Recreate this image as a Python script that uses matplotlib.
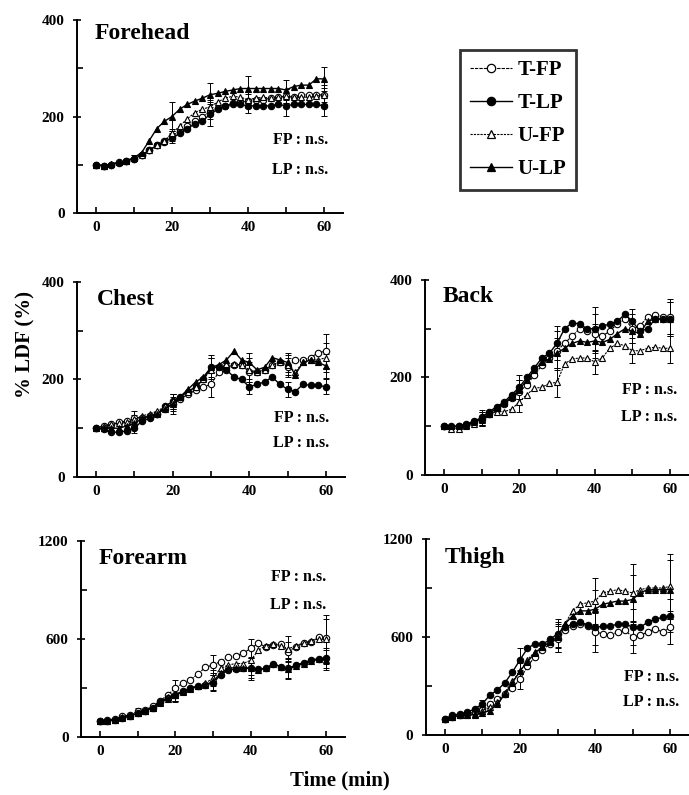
import numpy as np
import matplotlib
matplotlib.use("Agg")
import matplotlib.pyplot as plt
from matplotlib.lines import Line2D

plt.rcParams['font.family'] = ['Liberation Serif', 'DejaVu Serif']
plt.rcParams['font.weight'] = 'bold'

time = np.arange(0, 61, 2)
err_time = np.arange(0, 61, 10)
series = ['T-FP', 'T-LP', 'U-FP', 'U-LP']

# Forehead
forehead = {
    'T-FP': [100, 98, 100, 105, 108, 112, 120, 130, 140, 150, 160, 170, 180, 190, 200, 210,
             218, 222, 228, 230, 232, 235, 235, 238, 240, 242, 240, 245, 245, 245, 245],
    'T-LP': [100, 98, 100, 104, 108, 112, 120, 130, 140, 148, 155, 165, 175, 185, 190, 205,
             215, 222, 225, 225, 222, 222, 222, 222, 225, 222, 225, 225, 225, 225, 222],
    'U-FP': [100, 98, 102, 105, 108, 115, 120, 130, 140, 150, 165, 180, 195, 208, 215, 220,
             230, 238, 242, 240, 235, 238, 240, 238, 240, 242, 240, 240, 240, 242, 245],
    'U-LP': [100, 98, 102, 105, 108, 115, 125, 150, 175, 190, 200, 215, 225, 232, 238, 245,
             248, 252, 255, 258, 258, 258, 258, 258, 258, 255, 262, 265, 265, 278, 278],
}
forehead_err = {
    'T-FP': [0, 5, 10, 15, 15, 15, 20],
    'T-LP': [0, 5, 10, 25, 15, 20, 20],
    'U-FP': [0, 5, 10, 15, 15, 15, 15],
    'U-LP': [0, 5, 30, 25, 25, 20, 25],
}

# Chest
chest = {
    'T-FP': [100, 105, 108, 112, 115, 120, 122, 125, 130, 140, 150, 160, 170, 178, 185, 190,
             215, 225, 230, 230, 215, 215, 220, 230, 235, 225, 240, 240, 245, 255, 258],
    'T-LP': [100, 98, 92, 92, 95, 100, 115, 120, 130, 145, 155, 165, 175, 185, 200, 225,
             225, 220, 205, 200, 185, 190, 195, 205, 190, 180, 175, 190, 188, 188, 185],
    'U-FP': [100, 105, 108, 110, 112, 118, 125, 130, 135, 145, 155, 165, 175, 185, 200, 220,
             228, 232, 232, 230, 220, 215, 220, 230, 235, 230, 215, 235, 240, 240, 245],
    'U-LP': [100, 100, 100, 100, 105, 110, 120, 125, 130, 140, 150, 165, 180, 195, 205, 225,
             230, 240, 258, 240, 235, 220, 225, 245, 240, 235, 210, 235, 240, 235, 228],
}
chest_err = {
    'T-FP': [0, 15, 20, 25, 20, 20, 35],
    'T-LP': [0, 10, 15, 20, 15, 15, 15],
    'U-FP': [0, 10, 15, 25, 25, 20, 30],
    'U-LP': [0, 10, 15, 25, 20, 20, 25],
}

# Back
back = {
    'T-FP': [100, 98, 100, 102, 108, 115, 125, 135, 145, 158, 170, 185, 205, 225, 240, 255,
             270, 285, 300, 295, 290, 285, 295, 310, 320, 300, 305, 325, 328, 325, 325],
    'T-LP': [100, 100, 100, 105, 110, 118, 130, 140, 150, 165, 180, 200, 220, 240, 250, 270,
             300, 312, 310, 300, 300, 305, 310, 315, 330, 315, 295, 300, 320, 320, 320],
    'U-FP': [100, 95, 95, 100, 105, 112, 125, 130, 130, 135, 150, 165, 178, 180, 188, 190,
             228, 238, 240, 240, 232, 240, 260, 270, 265, 255, 255, 260, 262, 260, 260],
    'U-LP': [100, 100, 100, 103, 108, 115, 125, 138, 148, 160, 175, 195, 215, 232, 238, 250,
             260, 270, 275, 272, 275, 272, 278, 290, 300, 295, 290, 315, 320, 320, 320],
}
back_err = {
    'T-FP': [0, 15, 25, 40, 40, 30, 35],
    'T-LP': [0, 15, 25, 35, 45, 25, 35],
    'U-FP': [0, 10, 20, 30, 25, 25, 30],
    'U-LP': [0, 15, 20, 30, 35, 25, 35],
}

# Forearm
forearm = {
    'T-FP': [100, 106, 110, 126, 136, 157, 167, 187, 222, 258, 299, 330, 350, 386, 427, 441,
             462, 488, 496, 512, 543, 573, 553, 563, 570, 523, 553, 573, 584, 614, 604],
    'T-LP': [100, 100, 105, 115, 130, 145, 160, 180, 215, 240, 260, 280, 300, 310, 320, 330,
             380, 410, 415, 420, 421, 415, 420, 450, 430, 421, 440, 455, 470, 480, 482],
    'U-FP': [100, 100, 105, 120, 130, 150, 160, 180, 215, 245, 260, 280, 300, 315, 330, 360,
             420, 440, 450, 450, 470, 530, 560, 570, 560, 540, 560, 575, 590, 600, 600],
    'U-LP': [100, 100, 105, 115, 130, 145, 160, 180, 210, 235, 255, 275, 295, 310, 320, 340,
             390, 420, 425, 425, 420, 410, 420, 445, 430, 415, 435, 450, 465, 475, 470],
}
forearm_err = {
    'T-FP': [0, 20, 50, 60, 60, 60, 120],
    'T-LP': [0, 15, 40, 50, 60, 60, 60],
    'U-FP': [0, 15, 40, 50, 90, 80, 150],
    'U-LP': [0, 15, 40, 50, 70, 60, 60],
}

# Thigh
thigh = {
    'T-FP': [100, 110, 120, 130, 140, 155, 190, 220, 250, 290, 340, 420, 480, 520, 560, 590,
             640, 670, 680, 670, 630, 620, 610, 630, 640, 600, 610, 630, 650, 630, 660],
    'T-LP': [100, 120, 130, 140, 160, 190, 245, 275, 320, 385, 460, 530, 560, 555, 585, 620,
             660, 680, 690, 675, 660, 665, 665, 680, 680, 660, 660, 690, 710, 720, 730],
    'U-FP': [100, 110, 120, 125, 130, 150, 170, 200, 260, 330, 390, 460, 510, 540, 570, 610,
             680, 760, 800, 810, 820, 870, 880, 890, 880, 870, 890, 900, 900, 900, 910],
    'U-LP': [100, 110, 120, 120, 125, 135, 150, 190, 250, 320, 390, 450, 500, 540, 570, 600,
             680, 730, 760, 760, 770, 800, 810, 820, 820, 830, 870, 890, 890, 890, 890],
}
thigh_err = {
    'T-FP': [0, 20, 60, 80, 120, 100, 100],
    'T-LP': [0, 25, 70, 90, 110, 110, 100],
    'U-FP': [0, 20, 50, 70, 140, 180, 200],
    'U-LP': [0, 20, 60, 90, 120, 150, 180],
}

styles = {
    'T-FP': dict(marker='o', mfc='white', mec='black', ls=(0, (3, 1)), lw=0.8),
    'T-LP': dict(marker='o', mfc='black', mec='black', ls='-', lw=1.0),
    'U-FP': dict(marker='^', mfc='white', mec='black', ls=(0, (2, 1)), lw=0.8),
    'U-LP': dict(marker='^', mfc='black', mec='black', ls='-', lw=1.0),
}

# name, data, err, ymax, rect (fig px: left, top, right, bottom), title pos, FP/LP text pos
panels = [
    ('Forehead', forehead, forehead_err, 400, (77, 20, 343, 213), (0.065, 0.93), (61, 151, 89)),
    ('Chest', chest, chest_err, 400, (77, 282, 345, 477), (0.075, 0.91), (61, 121, 70)),
    ('Back', back, back_err, 400, (425, 280, 689, 475), (0.065, 0.915), (62, 174, 119)),
    ('Forearm', forearm, forearm_err, 1200, (81, 541, 345, 737), (0.065, 0.91), (60, 980, 808)),
    ('Thigh', thigh, thigh_err, 1200, (426, 539, 689, 735), (0.072, 0.905), (62.5, 355, 202)),
]

W, H = 689, 795
fig = plt.figure(figsize=(W / 100, H / 100), dpi=100)

for name, data, err, ymax, (l, t, r, b), (tx, ty), (fx, fy, ly) in panels:
    ax = fig.add_axes([l / W, 1 - b / H, (r - l) / W, (b - t) / H])
    for s in series:
        st = styles[s]
        ax.plot(time, data[s], color='black', marker=st['marker'], mfc=st['mfc'],
                mec=st['mec'], ms=4.6, mew=0.8, ls=st['ls'], lw=st['lw'], zorder=3)
        vals = np.array(data[s])[::5]
        ax.errorbar(err_time, vals, yerr=err[s], fmt='none', ecolor='black',
                    elinewidth=0.7, capsize=2, capthick=0.7, zorder=2)
    ax.set_xlim(-5, 65)
    ax.set_ylim(0, ymax)
    ax.set_xticks([0, 20, 40, 60])
    ax.set_xticks(np.arange(0, 61, 10), minor=True)
    ax.set_yticks([0, ymax / 2, ymax])
    ax.set_yticks([ymax / 4, ymax * 3 / 4], minor=True)
    ax.set_yticklabels([str(int(v)) for v in (0, ymax / 2, ymax)])
    for sp in ('top', 'right'):
        ax.spines[sp].set_visible(False)
    for sp in ('left', 'bottom'):
        ax.spines[sp].set_linewidth(1.4)
    ax.tick_params(axis='both', which='both', direction='in', width=1.2, labelsize=11,
                   length=4, pad=6)
    ax.tick_params(axis='y', which='major', direction='inout', length=6)
    ax.text(tx, ty, name, transform=ax.transAxes, fontsize=17, fontweight='bold',
            ha='left', va='center')
    ax.text(fx, fy, 'FP : n.s.', fontsize=11.5, fontweight='bold', ha='right', va='center')
    ax.text(fx, ly, 'LP : n.s.', fontsize=11.5, fontweight='bold', ha='right', va='center')

handles = [Line2D([], [], color='black', marker=styles[s]['marker'], mfc=styles[s]['mfc'],
                  mec='black', ms=6, mew=0.9, ls=styles[s]['ls'], lw=styles[s]['lw'])
           for s in series]
leg = fig.legend(handles, series, loc='upper left',
                 bbox_to_anchor=(460 / W, 1 - 50 / H), frameon=True, fancybox=False,
                 prop={'size': 15, 'weight': 'bold'}, handlelength=2.0,
                 handletextpad=0.25, labelspacing=0.62, borderpad=0.5, borderaxespad=0)
leg.get_frame().set_edgecolor('black')
leg.get_frame().set_linewidth(2.0)

fig.text(25 / W, 1 - 345 / H, '% LDF (%)', rotation=90, fontsize=15, fontweight='bold',
         ha='center', va='center')
fig.text(340 / W, 1 - 780 / H, 'Time (min)', fontsize=15, fontweight='bold',
         ha='center', va='center')

fig.savefig('out.png', dpi=100)
